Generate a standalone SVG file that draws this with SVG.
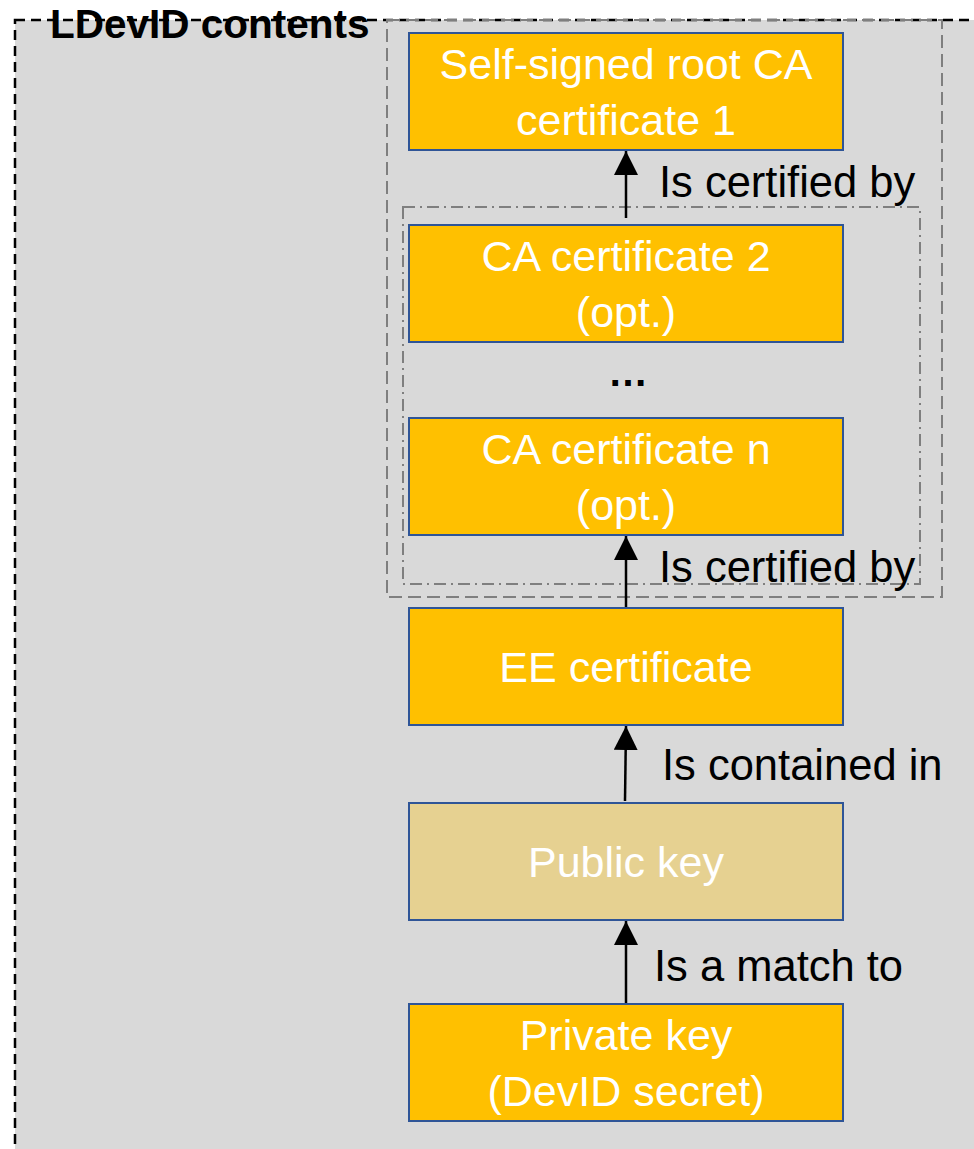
<svg xmlns="http://www.w3.org/2000/svg" width="974" height="1149" viewBox="0 0 974 1149">
<defs>
<marker id="arr" viewBox="0 0 24 24" refX="24" refY="12" markerWidth="24" markerHeight="24" markerUnits="userSpaceOnUse" orient="auto">
<path d="M0,0 L24,12 L0,24 z" fill="#000"/>
</marker>
</defs>
<style>
.box{fill:#ffc000;stroke:#2f5597;stroke-width:2}
.pub{fill:#e6d191;stroke:#2f5597;stroke-width:2}
.bt{font-family:"Liberation Sans",Arial,sans-serif;font-size:43px;fill:#fff;text-anchor:middle}
.lbl{font-family:"Liberation Sans",Arial,sans-serif;font-size:43.5px;fill:#000}
.conn{stroke:#000;stroke-width:2.5;fill:none;marker-end:url(#arr)}
</style>
<g id="container">
<rect x="15" y="20" width="980" height="1150" fill="#d9d9d9" stroke="#000" stroke-width="2.5" stroke-dasharray="10 6"/>
<text x="50" y="38" font-family="Liberation Sans,Arial,sans-serif" font-size="40.5" font-weight="bold" fill="#000">LDevID contents</text>
</g>
<g id="group-chain">
<rect x="387" y="20" width="555" height="577" fill="none" stroke="#7f7f7f" stroke-width="2" stroke-dasharray="13 6"/>
</g>
<g id="group-intermediate">
<rect x="403" y="207" width="517" height="377" fill="none" stroke="#7f7f7f" stroke-width="2" stroke-dasharray="12 5 2 5"/>
</g>
<g id="connectors">
<line class="conn" x1="626" y1="218" x2="626" y2="151"/>
<line class="conn" x1="626" y1="608" x2="626" y2="536"/>
<line class="conn" x1="625" y1="801" x2="626" y2="726"/>
<line class="conn" x1="626" y1="1004" x2="626" y2="921"/>
<text class="lbl" x="659" y="197">Is certified by</text>
<text class="lbl" x="659" y="582">Is certified by</text>
<text class="lbl" x="662" y="780">Is contained in</text>
<text class="lbl" x="654" y="981">Is a match to</text>
</g>
<g id="node-root">
<rect class="box" x="409" y="33" width="434" height="117"/>
<text class="bt" x="626" y="79">Self-signed root CA</text>
<text class="bt" x="626" y="135">certificate 1</text>
</g>
<g id="node-ca2">
<rect class="box" x="409" y="225" width="434" height="117"/>
<text class="bt" x="626" y="271">CA certificate 2</text>
<text class="bt" x="626" y="327">(opt.)</text>
</g>
<g id="node-dots">
<text x="628" y="386" font-family="Liberation Sans,Arial,sans-serif" font-size="40" font-weight="bold" fill="#000" text-anchor="middle">…</text>
</g>
<g id="node-can">
<rect class="box" x="409" y="418" width="434" height="117"/>
<text class="bt" x="626" y="464">CA certificate n</text>
<text class="bt" x="626" y="520">(opt.)</text>
</g>
<g id="node-ee">
<rect class="box" x="409" y="608" width="434" height="117"/>
<text class="bt" x="626" y="682">EE certificate</text>
</g>
<g id="node-pub">
<rect class="pub" x="409" y="803" width="434" height="117"/>
<text class="bt" x="626" y="877">Public key</text>
</g>
<g id="node-priv">
<rect class="box" x="409" y="1004" width="434" height="117"/>
<text class="bt" x="626" y="1050">Private key</text>
<text class="bt" x="626" y="1106">(DevID secret)</text>
</g>
</svg>
